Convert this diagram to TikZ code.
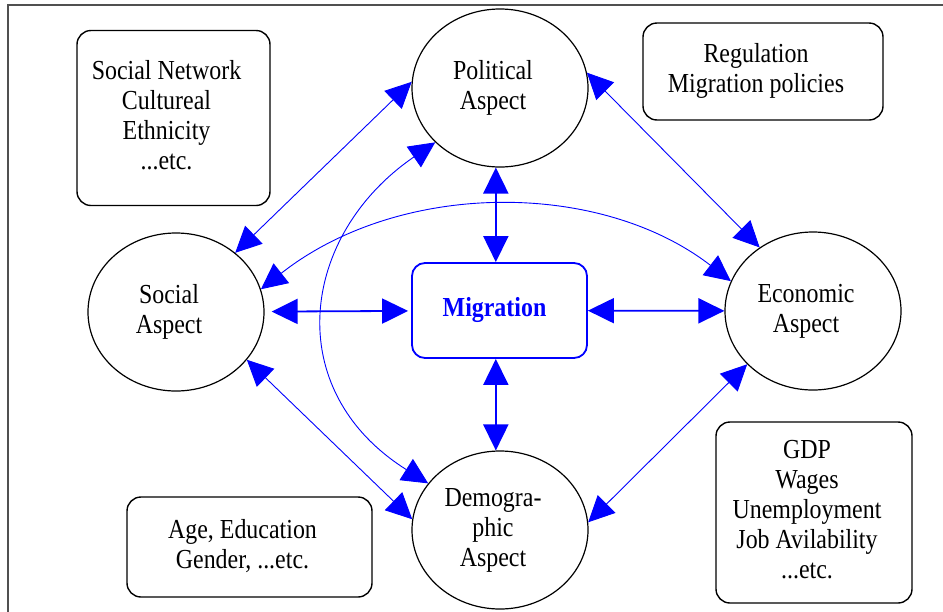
\documentclass[tikz,border=0pt]{standalone}
\usepackage{fontspec}
\setmainfont{Liberation Serif}[FakeStretch=0.87]
\usetikzlibrary{arrows.meta,shapes.geometric}
\definecolor{linkblue}{RGB}{0,0,255}
\definecolor{framegray}{RGB}{80,80,80}
% centred lines with a little room on the right
\newcommand\padtext[2][14pt]{\begin{tabular}{@{}c@{\hspace{#1}}}#2\end{tabular}}

\begin{document}
\begin{tikzpicture}[x=1pt,y=-1pt,
  every node/.style={font=\fontsize{27.5}{30}\selectfont},
  aspect/.style={ellipse, draw=black, line width=1.2pt, minimum width=176pt,
    minimum height=158pt, inner sep=0pt},
  factorbox/.style={rectangle, rounded corners=14pt, draw=black, line width=1.4pt,
    inner sep=0pt},
  hub/.style={rectangle, rounded corners=13pt, draw=linkblue, line width=1.8pt,
    text=linkblue, font=\fontsize{27.5}{30}\selectfont\bfseries,
    minimum width=175pt, minimum height=95pt, inner sep=0pt},
  link/.style={draw=linkblue, line width=0.9pt,
    arrows={Triangle[length=26pt,width=25pt]-Triangle[length=26pt,width=25pt]}},
  hublink/.style={link, line width=1.8pt}
]
\clip (0,0) rectangle (943,611);
\fill[white] (0,0) rectangle (943,611);

% outer frame
\draw[framegray, line width=2pt] (8,640) -- (8,5) -- (960,5);

% the four aspects
\node[aspect] (political)   at (500,88)  {\padtext{Political\\Aspect}};
\node[aspect] (social)      at (176,312) {\padtext{Social\\Aspect}};
\node[aspect] (economic)    at (813,311) {\padtext{Economic\\Aspect}};
\node[aspect] (demographic) at (500,530) {\padtext{Demogra-\\phic\\Aspect}};

% centre
\node[hub] (migration) at (499.5,310.5) {\padtext[10pt]{Migration}};

% factor boxes
\node[factorbox, minimum width=193pt, minimum height=175pt] (socialfactors) at (173.5,118)
  {\padtext{Social Network\\Cultureal\\Ethnicity\\...etc.}};
\node[factorbox, minimum width=240pt, minimum height=97pt] (politicalfactors) at (763,71.5)
  {\padtext{Regulation\\Migration policies}};
\node[factorbox, minimum width=245pt, minimum height=100pt] (demographicfactors) at (249.5,547)
  {\padtext{Age, Education\\Gender, ...etc.}};
\node[factorbox, minimum width=196pt, minimum height=181pt] (economicfactors) at (814,512.5)
  {\padtext{GDP\\Wages\\Unemployment\\Job Avilability\\...etc.}};

% links between the aspects
\draw[link] (social.45) -- (political.176);
\draw[link] (political.10) -- (economic.130);
\draw[link] (social.-34) -- (demographic.173);
\draw[link] (demographic.5) -- (economic.-141);
\draw[link] (social.15) .. controls (400,180) and (600,180) .. (economic.160);
\draw[link] (political.220) .. controls (300,235) and (280,390) .. (demographic.147);

% links to the centre
\draw[hublink] (political.-93) -- (political.-93 |- migration.north);
\draw[hublink] (demographic.93 |- migration.south) -- (demographic.93);
\draw[hublink, shorten <=7pt, shorten >=3pt] (social) -- (migration);
\draw[hublink] (migration) -- (economic);
\end{tikzpicture}
\end{document}
